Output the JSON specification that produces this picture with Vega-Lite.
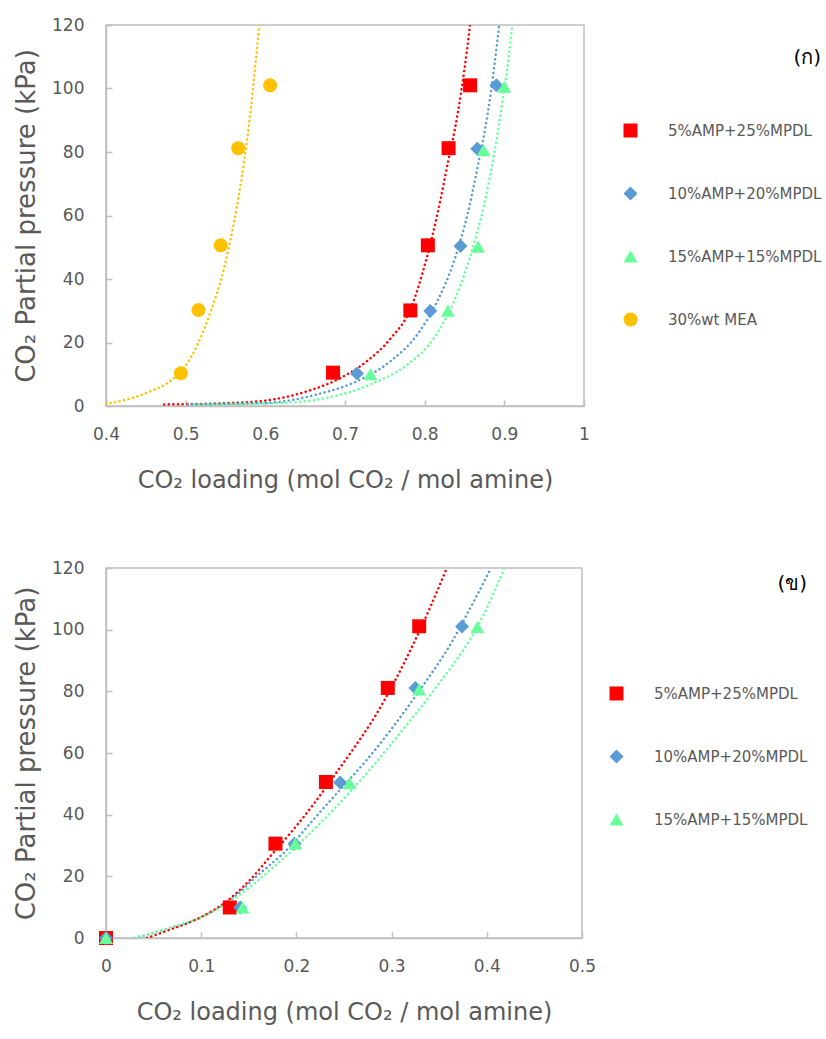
{
  "$schema": "https://vega.github.io/schema/vega-lite/v6.json",
  "background": "white",
  "padding": {"left": 12, "top": 15, "right": 0, "bottom": 0},
  "spacing": 65,
  "config": {
    "font": "DejaVu Sans",
    "view": {"stroke": "#bfbfbf", "strokeWidth": 1.5},
    "axis": {"grid": false, "domainColor": "#bfbfbf", "domainWidth": 1.5, "labelColor": "#595959", "labelFontSize": 17, "titleColor": "#595959", "titleFontWeight": "normal", "tickColor": "#bfbfbf", "tickWidth": 1.5, "tickSize": -6, "labelFlush": false},
    "axisX": {"labelPadding": 26, "titlePadding": 26, "titleFontSize": 24},
    "axisY": {"labelPadding": 28, "titlePadding": 12, "titleFontSize": 26},
    "legend": {"titleFontSize": 20, "titleColor": "#000000", "titleFontWeight": "normal", "titleAnchor": "end", "labelFontSize": 15, "labelColor": "#595959", "labelOffset": 30, "rowPadding": 47, "symbolSize": 196, "symbolStrokeWidth": 0, "labelLimit": 300, "padding": 0}
  },
  "datasets": {
    "top": [
      {"series": "5%AMP+25%MPDL", "x": 0.685, "y": 10.5},
      {"series": "5%AMP+25%MPDL", "x": 0.782, "y": 30.1},
      {"series": "5%AMP+25%MPDL", "x": 0.804, "y": 50.6},
      {"series": "5%AMP+25%MPDL", "x": 0.830, "y": 81.2},
      {"series": "5%AMP+25%MPDL", "x": 0.857, "y": 101.0},
      {"series": "10%AMP+20%MPDL", "x": 0.715, "y": 10.2},
      {"series": "10%AMP+20%MPDL", "x": 0.807, "y": 29.9},
      {"series": "10%AMP+20%MPDL", "x": 0.845, "y": 50.4},
      {"series": "10%AMP+20%MPDL", "x": 0.866, "y": 81.0},
      {"series": "10%AMP+20%MPDL", "x": 0.890, "y": 101.0},
      {"series": "15%AMP+15%MPDL", "x": 0.732, "y": 10.0},
      {"series": "15%AMP+15%MPDL", "x": 0.829, "y": 30.0},
      {"series": "15%AMP+15%MPDL", "x": 0.867, "y": 50.2},
      {"series": "15%AMP+15%MPDL", "x": 0.874, "y": 80.6},
      {"series": "15%AMP+15%MPDL", "x": 0.900, "y": 100.6},
      {"series": "30%wt MEA", "x": 0.494, "y": 10.3},
      {"series": "30%wt MEA", "x": 0.516, "y": 30.2},
      {"series": "30%wt MEA", "x": 0.544, "y": 50.6},
      {"series": "30%wt MEA", "x": 0.566, "y": 81.2},
      {"series": "30%wt MEA", "x": 0.606, "y": 101.0}
    ],
    "topTrend": [
      {"series": "30%wt MEA", "x": 0.400, "y": 0.7},
      {"series": "30%wt MEA", "x": 0.427, "y": 2.1},
      {"series": "30%wt MEA", "x": 0.4565, "y": 4.7},
      {"series": "30%wt MEA", "x": 0.4774, "y": 7.3},
      {"series": "30%wt MEA", "x": 0.4983, "y": 12.1},
      {"series": "30%wt MEA", "x": 0.515, "y": 19.4},
      {"series": "30%wt MEA", "x": 0.5317, "y": 29.9},
      {"series": "30%wt MEA", "x": 0.5484, "y": 43.6},
      {"series": "30%wt MEA", "x": 0.561, "y": 58.3},
      {"series": "30%wt MEA", "x": 0.5735, "y": 77.2},
      {"series": "30%wt MEA", "x": 0.582, "y": 94.0},
      {"series": "30%wt MEA", "x": 0.588, "y": 108.7},
      {"series": "30%wt MEA", "x": 0.5924, "y": 120.0},
      {"series": "5%AMP+25%MPDL", "x": 0.473, "y": 0.5},
      {"series": "5%AMP+25%MPDL", "x": 0.561, "y": 1.0},
      {"series": "5%AMP+25%MPDL", "x": 0.611, "y": 2.1},
      {"series": "5%AMP+25%MPDL", "x": 0.653, "y": 4.7},
      {"series": "5%AMP+25%MPDL", "x": 0.695, "y": 8.9},
      {"series": "5%AMP+25%MPDL", "x": 0.728, "y": 14.2},
      {"series": "5%AMP+25%MPDL", "x": 0.758, "y": 21.5},
      {"series": "5%AMP+25%MPDL", "x": 0.783, "y": 31.0},
      {"series": "5%AMP+25%MPDL", "x": 0.8015, "y": 45.7},
      {"series": "5%AMP+25%MPDL", "x": 0.816, "y": 60.4},
      {"series": "5%AMP+25%MPDL", "x": 0.8287, "y": 76.1},
      {"series": "5%AMP+25%MPDL", "x": 0.8413, "y": 91.9},
      {"series": "5%AMP+25%MPDL", "x": 0.8496, "y": 105.5},
      {"series": "5%AMP+25%MPDL", "x": 0.857, "y": 120.0},
      {"series": "10%AMP+20%MPDL", "x": 0.5025, "y": 0.5},
      {"series": "10%AMP+20%MPDL", "x": 0.603, "y": 1.0},
      {"series": "10%AMP+20%MPDL", "x": 0.6656, "y": 3.7},
      {"series": "10%AMP+20%MPDL", "x": 0.7158, "y": 7.9},
      {"series": "10%AMP+20%MPDL", "x": 0.7576, "y": 14.2},
      {"series": "10%AMP+20%MPDL", "x": 0.791, "y": 22.6},
      {"series": "10%AMP+20%MPDL", "x": 0.816, "y": 33.1},
      {"series": "10%AMP+20%MPDL", "x": 0.837, "y": 45.7},
      {"series": "10%AMP+20%MPDL", "x": 0.8538, "y": 60.4},
      {"series": "10%AMP+20%MPDL", "x": 0.8663, "y": 75.1},
      {"series": "10%AMP+20%MPDL", "x": 0.879, "y": 91.9},
      {"series": "10%AMP+20%MPDL", "x": 0.8872, "y": 106.6},
      {"series": "10%AMP+20%MPDL", "x": 0.8935, "y": 120.0},
      {"series": "15%AMP+15%MPDL", "x": 0.511, "y": 0.5},
      {"series": "15%AMP+15%MPDL", "x": 0.6237, "y": 1.0},
      {"series": "15%AMP+15%MPDL", "x": 0.6865, "y": 3.1},
      {"series": "15%AMP+15%MPDL", "x": 0.7367, "y": 7.3},
      {"series": "15%AMP+15%MPDL", "x": 0.7785, "y": 13.1},
      {"series": "15%AMP+15%MPDL", "x": 0.812, "y": 21.5},
      {"series": "15%AMP+15%MPDL", "x": 0.837, "y": 33.1},
      {"series": "15%AMP+15%MPDL", "x": 0.858, "y": 47.8},
      {"series": "15%AMP+15%MPDL", "x": 0.8747, "y": 63.5},
      {"series": "15%AMP+15%MPDL", "x": 0.8872, "y": 79.3},
      {"series": "15%AMP+15%MPDL", "x": 0.8977, "y": 96.1},
      {"series": "15%AMP+15%MPDL", "x": 0.906, "y": 110.8},
      {"series": "15%AMP+15%MPDL", "x": 0.910, "y": 120.0}
    ],
    "bottom": [
      {"series": "5%AMP+25%MPDL", "x": 0.0, "y": 0.0},
      {"series": "5%AMP+25%MPDL", "x": 0.130, "y": 9.9},
      {"series": "5%AMP+25%MPDL", "x": 0.178, "y": 30.6},
      {"series": "5%AMP+25%MPDL", "x": 0.231, "y": 50.6},
      {"series": "5%AMP+25%MPDL", "x": 0.296, "y": 81.1},
      {"series": "5%AMP+25%MPDL", "x": 0.329, "y": 101.1},
      {"series": "10%AMP+20%MPDL", "x": 0.0, "y": 0.0},
      {"series": "10%AMP+20%MPDL", "x": 0.141, "y": 9.9},
      {"series": "10%AMP+20%MPDL", "x": 0.198, "y": 30.6},
      {"series": "10%AMP+20%MPDL", "x": 0.246, "y": 50.4},
      {"series": "10%AMP+20%MPDL", "x": 0.325, "y": 81.1},
      {"series": "10%AMP+20%MPDL", "x": 0.374, "y": 101.0},
      {"series": "15%AMP+15%MPDL", "x": 0.0, "y": 0.0},
      {"series": "15%AMP+15%MPDL", "x": 0.1435, "y": 9.9},
      {"series": "15%AMP+15%MPDL", "x": 0.199, "y": 30.6},
      {"series": "15%AMP+15%MPDL", "x": 0.256, "y": 50.2},
      {"series": "15%AMP+15%MPDL", "x": 0.329, "y": 80.6},
      {"series": "15%AMP+15%MPDL", "x": 0.390, "y": 100.8}
    ],
    "bottomTrend": [
      {"series": "5%AMP+25%MPDL", "x": 0.043, "y": 0.0},
      {"series": "5%AMP+25%MPDL", "x": 0.0653, "y": 2.5},
      {"series": "5%AMP+25%MPDL", "x": 0.0967, "y": 6.3},
      {"series": "5%AMP+25%MPDL", "x": 0.128, "y": 12.2},
      {"series": "5%AMP+25%MPDL", "x": 0.1527, "y": 19.3},
      {"series": "5%AMP+25%MPDL", "x": 0.1737, "y": 26.9},
      {"series": "5%AMP+25%MPDL", "x": 0.1947, "y": 34.4},
      {"series": "5%AMP+25%MPDL", "x": 0.219, "y": 43.8},
      {"series": "5%AMP+25%MPDL", "x": 0.240, "y": 52.8},
      {"series": "5%AMP+25%MPDL", "x": 0.2611, "y": 61.9},
      {"series": "5%AMP+25%MPDL", "x": 0.282, "y": 71.6},
      {"series": "5%AMP+25%MPDL", "x": 0.303, "y": 83.1},
      {"series": "5%AMP+25%MPDL", "x": 0.324, "y": 96.1},
      {"series": "5%AMP+25%MPDL", "x": 0.3416, "y": 108.0},
      {"series": "5%AMP+25%MPDL", "x": 0.358, "y": 120.0},
      {"series": "10%AMP+20%MPDL", "x": 0.0302, "y": 0.0},
      {"series": "10%AMP+20%MPDL", "x": 0.0653, "y": 3.1},
      {"series": "10%AMP+20%MPDL", "x": 0.1002, "y": 6.8},
      {"series": "10%AMP+20%MPDL", "x": 0.128, "y": 11.7},
      {"series": "10%AMP+20%MPDL", "x": 0.1597, "y": 20.4},
      {"series": "10%AMP+20%MPDL", "x": 0.1912, "y": 29.0},
      {"series": "10%AMP+20%MPDL", "x": 0.219, "y": 38.8},
      {"series": "10%AMP+20%MPDL", "x": 0.2471, "y": 48.5},
      {"series": "10%AMP+20%MPDL", "x": 0.2751, "y": 58.2},
      {"series": "10%AMP+20%MPDL", "x": 0.303, "y": 69.1},
      {"series": "10%AMP+20%MPDL", "x": 0.331, "y": 81.0},
      {"series": "10%AMP+20%MPDL", "x": 0.3625, "y": 95.6},
      {"series": "10%AMP+20%MPDL", "x": 0.3835, "y": 107.5},
      {"series": "10%AMP+20%MPDL", "x": 0.4045, "y": 120.0},
      {"series": "15%AMP+15%MPDL", "x": 0.0302, "y": 0.0},
      {"series": "15%AMP+15%MPDL", "x": 0.0653, "y": 3.1},
      {"series": "15%AMP+15%MPDL", "x": 0.1002, "y": 6.8},
      {"series": "15%AMP+15%MPDL", "x": 0.135, "y": 12.8},
      {"series": "15%AMP+15%MPDL", "x": 0.170, "y": 21.4},
      {"series": "15%AMP+15%MPDL", "x": 0.205, "y": 31.2},
      {"series": "15%AMP+15%MPDL", "x": 0.240, "y": 42.0},
      {"series": "15%AMP+15%MPDL", "x": 0.2751, "y": 53.9},
      {"series": "15%AMP+15%MPDL", "x": 0.310, "y": 66.9},
      {"series": "15%AMP+15%MPDL", "x": 0.345, "y": 80.6},
      {"series": "15%AMP+15%MPDL", "x": 0.3975, "y": 105.3},
      {"series": "15%AMP+15%MPDL", "x": 0.4185, "y": 120.0}
    ]
  },
  "resolve": {"scale": {"color": "independent", "shape": "independent"}},
  "vconcat": [
    {
      "width": 478,
      "height": 381,
      "layer": [
        {
          "data": {"name": "topTrend"},
          "transform": [{"filter": "datum.series == '30%wt MEA'"}],
          "mark": {"type": "line", "clip": true, "color": "#ffc000", "strokeWidth": 2.5, "strokeDash": [0.1, 4.5], "strokeCap": "round", "interpolate": "monotone"},
          "encoding": {"x": {"field": "x", "type": "quantitative"}, "y": {"field": "y", "type": "quantitative"}}
        },
        {
          "data": {"name": "topTrend"},
          "transform": [{"filter": "datum.series == '5%AMP+25%MPDL'"}],
          "mark": {"type": "line", "clip": true, "color": "#ff0000", "strokeWidth": 2.5, "strokeDash": [0.1, 4.5], "strokeCap": "round", "interpolate": "monotone"},
          "encoding": {"x": {"field": "x", "type": "quantitative"}, "y": {"field": "y", "type": "quantitative"}}
        },
        {
          "data": {"name": "topTrend"},
          "transform": [{"filter": "datum.series == '10%AMP+20%MPDL'"}],
          "mark": {"type": "line", "clip": true, "color": "#5b9bd5", "strokeWidth": 2.5, "strokeDash": [0.1, 4.5], "strokeCap": "round", "interpolate": "monotone"},
          "encoding": {"x": {"field": "x", "type": "quantitative"}, "y": {"field": "y", "type": "quantitative"}}
        },
        {
          "data": {"name": "topTrend"},
          "transform": [{"filter": "datum.series == '15%AMP+15%MPDL'"}],
          "mark": {"type": "line", "clip": true, "color": "#66ff99", "strokeWidth": 2.5, "strokeDash": [0.1, 4.5], "strokeCap": "round", "interpolate": "monotone"},
          "encoding": {"x": {"field": "x", "type": "quantitative"}, "y": {"field": "y", "type": "quantitative"}}
        },
        {
          "data": {"name": "top"},
          "mark": {"type": "point", "filled": true, "size": 196, "opacity": 1, "strokeWidth": 0},
          "encoding": {
            "x": {"field": "x", "type": "quantitative", "scale": {"domain": [0.4, 1.0], "nice": false, "zero": false},
              "axis": {"values": [0.4, 0.5, 0.6, 0.7, 0.8, 0.9, 1.0], "format": "~g", "title": "CO₂ loading (mol CO₂ / mol amine)"}},
            "y": {"field": "y", "type": "quantitative", "scale": {"domain": [0, 120], "nice": false},
              "axis": {"values": [0, 20, 40, 60, 80, 100, 120], "title": "CO₂ Partial pressure (kPa)"}},
            "color": {"field": "series", "type": "nominal", "title": "(ก)",
              "scale": {"domain": ["5%AMP+25%MPDL", "10%AMP+20%MPDL", "15%AMP+15%MPDL", "30%wt MEA"], "range": ["#ff0000", "#5b9bd5", "#66ff99", "#ffc000"]},
              "legend": {"orient": "none", "legendX": 517, "legendY": 23, "titlePadding": 55}},
            "shape": {"field": "series", "type": "nominal", "title": "(ก)",
              "scale": {"domain": ["5%AMP+25%MPDL", "10%AMP+20%MPDL", "15%AMP+15%MPDL", "30%wt MEA"], "range": ["square", "diamond", "triangle-up", "circle"]},
              "legend": {"orient": "none", "legendX": 517, "legendY": 23, "titlePadding": 55}}
          }
        }
      ]
    },
    {
      "width": 476,
      "height": 370,
      "layer": [
        {
          "data": {"name": "bottomTrend"},
          "transform": [{"filter": "datum.series == '5%AMP+25%MPDL'"}],
          "mark": {"type": "line", "clip": true, "color": "#ff0000", "strokeWidth": 2.5, "strokeDash": [0.1, 4.5], "strokeCap": "round", "interpolate": "monotone"},
          "encoding": {"x": {"field": "x", "type": "quantitative"}, "y": {"field": "y", "type": "quantitative"}}
        },
        {
          "data": {"name": "bottomTrend"},
          "transform": [{"filter": "datum.series == '10%AMP+20%MPDL'"}],
          "mark": {"type": "line", "clip": true, "color": "#5b9bd5", "strokeWidth": 2.5, "strokeDash": [0.1, 4.5], "strokeCap": "round", "interpolate": "monotone"},
          "encoding": {"x": {"field": "x", "type": "quantitative"}, "y": {"field": "y", "type": "quantitative"}}
        },
        {
          "data": {"name": "bottomTrend"},
          "transform": [{"filter": "datum.series == '15%AMP+15%MPDL'"}],
          "mark": {"type": "line", "clip": true, "color": "#66ff99", "strokeWidth": 2.5, "strokeDash": [0.1, 4.5], "strokeCap": "round", "interpolate": "monotone"},
          "encoding": {"x": {"field": "x", "type": "quantitative"}, "y": {"field": "y", "type": "quantitative"}}
        },
        {
          "data": {"name": "bottom"},
          "mark": {"type": "point", "filled": true, "size": 196, "opacity": 1, "strokeWidth": 0},
          "encoding": {
            "x": {"field": "x", "type": "quantitative", "scale": {"domain": [0, 0.5], "nice": false},
              "axis": {"values": [0, 0.1, 0.2, 0.3, 0.4, 0.5], "format": "~g", "title": "CO₂ loading (mol CO₂ / mol amine)"}},
            "y": {"field": "y", "type": "quantitative", "scale": {"domain": [0, 120], "nice": false},
              "axis": {"values": [0, 20, 40, 60, 80, 100, 120], "title": "CO₂ Partial pressure (kPa)"}},
            "color": {"field": "series", "type": "nominal", "title": "(ข)",
              "scale": {"domain": ["5%AMP+25%MPDL", "10%AMP+20%MPDL", "15%AMP+15%MPDL"], "range": ["#ff0000", "#5b9bd5", "#66ff99"]},
              "legend": {"orient": "none", "legendX": 503, "legendY": 6, "titlePadding": 92}},
            "shape": {"field": "series", "type": "nominal", "title": "(ข)",
              "scale": {"domain": ["5%AMP+25%MPDL", "10%AMP+20%MPDL", "15%AMP+15%MPDL"], "range": ["square", "diamond", "triangle-up"]},
              "legend": {"orient": "none", "legendX": 503, "legendY": 6, "titlePadding": 92}}
          }
        }
      ]
    }
  ]
}
